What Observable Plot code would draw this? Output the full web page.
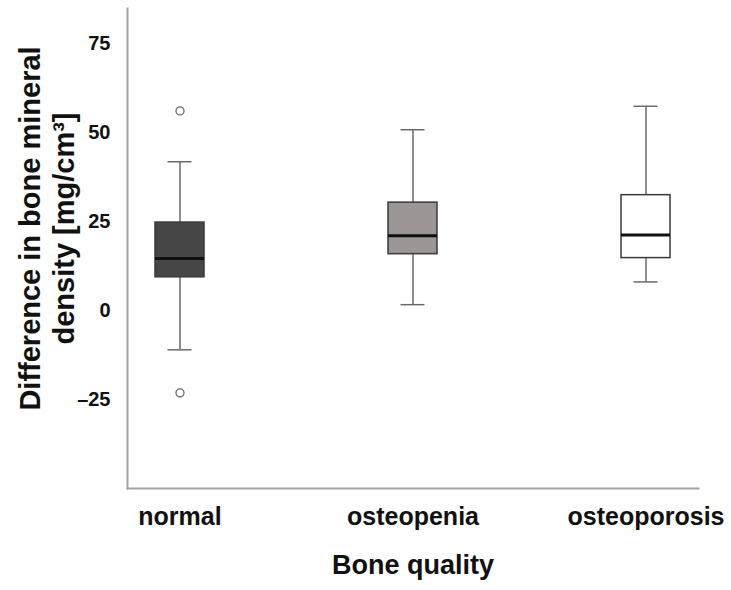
<!DOCTYPE html>
<html>
<head>
<meta charset="utf-8">
<script src="https://cdn.jsdelivr.net/npm/d3@7"></script>
<script src="https://cdn.jsdelivr.net/npm/@observablehq/plot@0.6"></script>
<style>
  html, body { margin: 0; padding: 0; background: #fff; }
  #chart svg { display: block; }
</style>
</head>
<body>
<div id="chart"></div>
<script>
// Data
const categories = ["normal", "osteopenia", "osteoporosis"];
const whiskerLow = [-11.0, 1.7, 8.1];
const q1 = [9.4, 15.9, 14.8];
const median = [14.7, 21.1, 21.3];
const q3 = [24.8, 30.4, 32.5];
const whiskerHigh = [41.9, 50.9, 57.5];
const boxFills = ["#464646", "#9b9595", "#ffffff"];
const outlierGroup = ["normal", "normal"];
const outlierValue = [56.2, -23.1];
const yTicks = [-25, 0, 25, 50, 75];
const yLabel = "Difference in bone mineral\ndensity [mg/cm³]";
const xLabel = "Bone quality";

const boxes = categories.map((c, i) => ({
  cat: c, lo: whiskerLow[i], q1: q1[i], med: median[i], q3: q3[i], hi: whiskerHigh[i], fill: boxFills[i]
}));
const outliers = outlierGroup.map((c, i) => ({cat: c, v: outlierValue[i]}));

const font = "'Liberation Sans', Arial, sans-serif";
const whiskerColor = "#6a6a6a";

const chart = Plot.plot({
  width: 731,
  height: 590,
  marginLeft: 127,
  marginRight: 33,
  marginTop: 8,
  marginBottom: 102,
  style: {fontFamily: font, color: "#111", background: "#fff"},
  x: {type: "band", domain: categories, paddingInner: 0.79, paddingOuter: 0.118},
  y: {domain: [-50, 85]},
  marks: [
    Plot.frame({anchor: "left", stroke: "#a3a3a3", strokeWidth: 2}),
    Plot.frame({anchor: "bottom", stroke: "#a3a3a3", strokeWidth: 2}),
    Plot.ruleX(boxes, {x: "cat", y1: "lo", y2: "hi", stroke: whiskerColor, strokeWidth: 1.5}),
    Plot.tickY(boxes, {x: "cat", y: "lo", stroke: whiskerColor, strokeWidth: 1.5, insetLeft: 12.5, insetRight: 12.5}),
    Plot.tickY(boxes, {x: "cat", y: "hi", stroke: whiskerColor, strokeWidth: 1.5, insetLeft: 12.5, insetRight: 12.5}),
    Plot.barY(boxes, {x: "cat", y1: "q1", y2: "q3", fill: "fill", stroke: "#3a3a3a", strokeWidth: 1.5}),
    Plot.tickY(boxes, {x: "cat", y: "med", stroke: "#111", strokeWidth: 3}),
    Plot.dot(outliers, {x: "cat", y: "v", r: 4, stroke: whiskerColor, strokeWidth: 1.3, fill: "#fff"}),
    Plot.axisY({ticks: yTicks, tickSize: 0, tickPadding: 17, fontSize: 20, fontWeight: "bold", label: null, tickFormat: d => d < 0 ? "\u2013" + Math.abs(d) : String(d)}),
    Plot.axisX({tickSize: 0, tickPadding: 19, fontSize: 25, fontWeight: "bold", label: null}),
    Plot.text([yLabel], {frameAnchor: "left", rotate: -90, dx: -81, dy: -20, fontSize: 29, fontWeight: "bold", lineHeight: 1.17, textAnchor: "middle", fill: "#111"}),
    Plot.text([xLabel], {frameAnchor: "bottom", dy: 85, fontSize: 27, fontWeight: "bold", fill: "#111"})
  ]
});
document.getElementById("chart").appendChild(chart);
</script>
</body>
</html>
